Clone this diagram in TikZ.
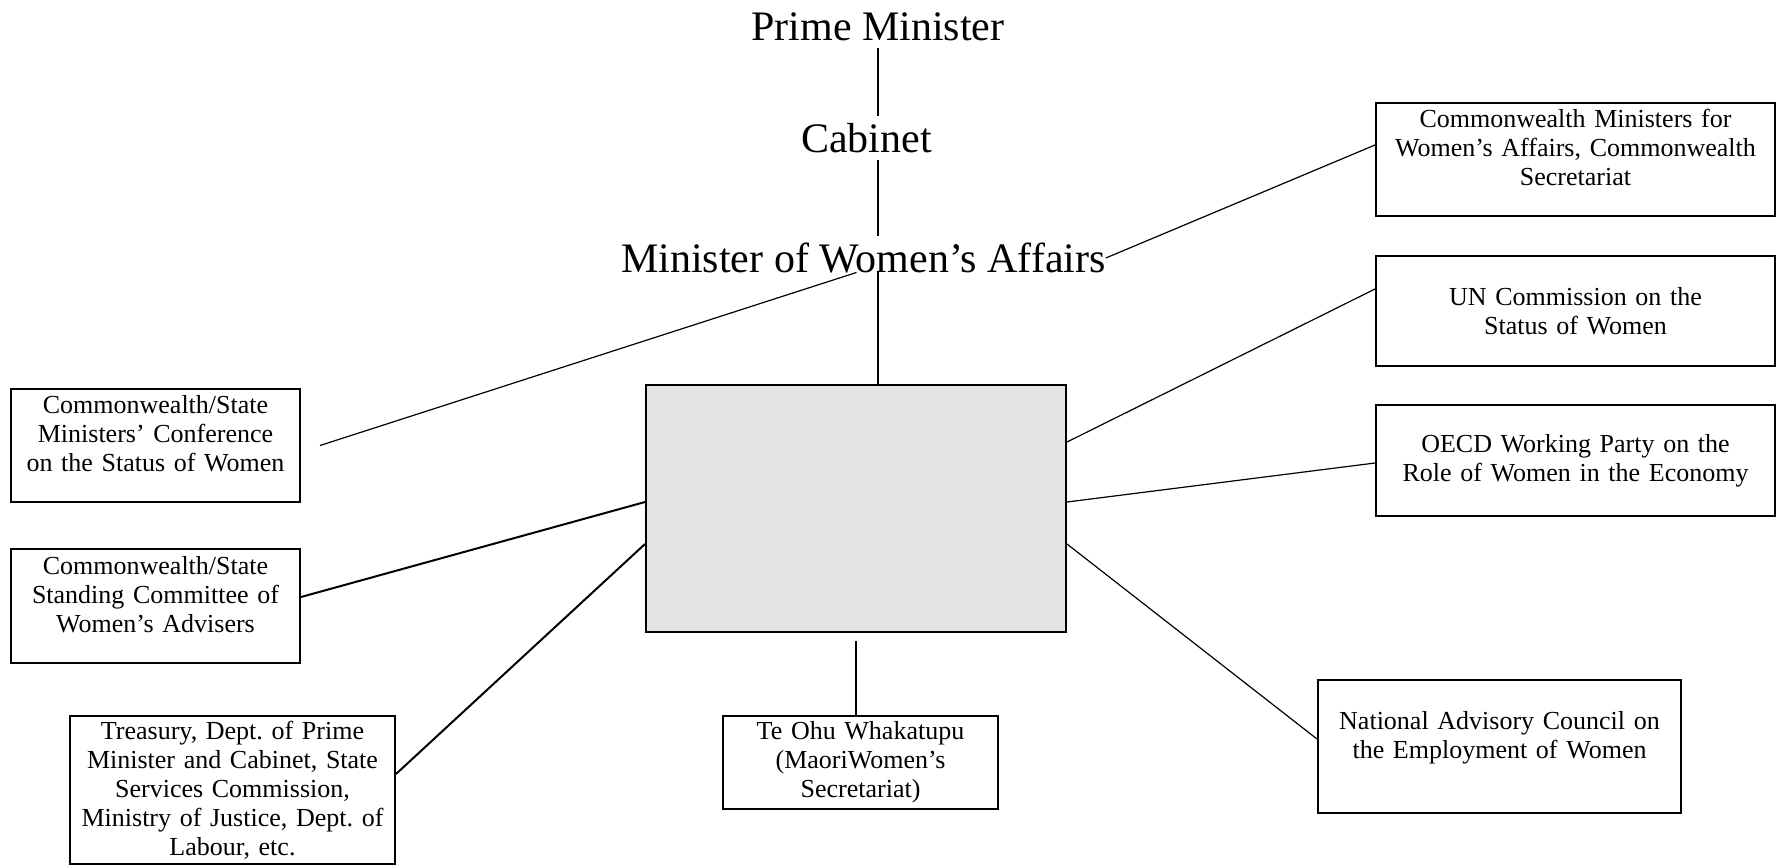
\documentclass[tikz,border=0pt]{standalone}
\usepackage{fontspec}
\setmainfont{Liberation Serif}
\usepackage{tikz}
\usetikzlibrary{positioning}
\frenchspacing
\tikzstyle{line} = [draw, line width=1.2pt]
\tikzstyle{thickline} = [draw, line width=2pt]
\tikzstyle{box} = [rectangle, draw, line width=2pt, align=center, inner xsep=6pt, inner ysep=4pt, font=\fontsize{26}{29}\selectfont]
\tikzstyle{hub} = [rectangle, draw, line width=2pt, fill=black!11]
\tikzstyle{title} = [inner xsep=0pt, inner ysep=0pt, outer xsep=0pt, outer ysep=7pt, font=\fontsize{42}{48}\selectfont]
\newcommand{\botgap}[1]{\rule[-#1]{0pt}{#1}}

\begin{document}
\begin{tikzpicture}[x=1pt, y=-1pt]
	\useasboundingbox (0,0) rectangle (1776,865);
	
	\node [hub, minimum width=420pt, minimum height=247pt] (ministry) at (856,508.5) {};
	
	\node [title] (pm) at (878,27) {Prime Minister};
	\node [title, below of=pm, node distance=111pt, xshift=-11.5pt] (cab) {Cabinet};
	\node [title, below of=cab, node distance=120pt, xshift=-3pt] (mwa) {Minister of Women’s Affairs};
	
	\path [thickline] (pm.south) -- (pm.south |- cab.north);
	\path [thickline] (pm.south |- cab.south) -- (pm.south |- mwa.north);
	\path [thickline] (pm.south |- mwa.base) -- (pm.south |- ministry.north);
	
	% left side
	\node [box, left of=ministry, node distance=700.5pt, yshift=63pt, text width=277pt, minimum width=289pt, minimum height=113pt] (csmc)
	{Commonwealth/State\\ Ministers’ Conference\\ on the Status of Women\botgap{24pt}};
	\node [box, below of=csmc, node distance=160.5pt, text width=277pt, minimum width=289pt, minimum height=114pt] (cssc)
	{Commonwealth/State\\ Standing Committee of\\ Women’s Advisers\botgap{24pt}};
	\node [box, left of=ministry, node distance=623.5pt, yshift=-281.5pt, text width=313pt, minimum width=325pt, minimum height=148pt] (treasury)
	{Treasury, Dept. of Prime\\ Minister and Cabinet, State\\ Services Commission,\\ Ministry of Justice, Dept. of\\ Labour, etc.};
	
	% below
	\node [box, below of=ministry, node distance=254pt, xshift=4.5pt, text width=263pt, minimum width=275pt, minimum height=93pt] (teohu)
	{Te Ohu Whakatupu\\ (MaoriWomen’s\\ Secretariat)};
	
	% right side
	\node [box, right of=ministry, node distance=719.5pt, yshift=349pt, text width=387pt, minimum width=399pt, minimum height=113pt] (cwsec)
	{Commonwealth Ministers for\\ Women’s Affairs, Commonwealth\\ Secretariat\botgap{24pt}};
	\node [box, below of=cwsec, node distance=151.5pt, text width=387pt, minimum width=399pt, minimum height=110pt] (un)
	{UN Commission on the\\ Status of Women};
	\node [box, below of=un, node distance=149.5pt, text width=387pt, minimum width=399pt, minimum height=111pt] (oecd)
	{OECD Working Party on the\\ Role of Women in the Economy};
	\node [box, right of=ministry, node distance=643.5pt, yshift=-238pt, text width=351pt, minimum width=363pt, minimum height=133pt] (nac)
	{National Advisory Council on\\ the Employment of Women\botgap{24pt}};
	
	\path [line] ([xshift=-7pt]mwa.base) -- ([xshift=19pt]csmc.east);
	\path [line] (mwa.east) -- ([yshift=14.5pt]cwsec.west);
	
	\path [thickline] ([yshift=9pt]cssc.east) -- ([yshift=6.5pt]ministry.west);
	\path [thickline] ([yshift=16pt]treasury.east) -- ([yshift=-35.5pt]ministry.west);
	
	\path [line] ([yshift=66.5pt]ministry.east) -- ([yshift=22pt]un.west);
	\path [line] ([yshift=6.5pt]ministry.east) -- ([yshift=-2.5pt]oecd.west);
	\path [line] ([yshift=-35.5pt]ministry.east) -- ([yshift=7.5pt]nac.west);
	
	\path [line, line width=1.6pt] ([yshift=-8pt]ministry.south) -- (ministry.south |- teohu.north);
	
\end{tikzpicture}
\end{document}
